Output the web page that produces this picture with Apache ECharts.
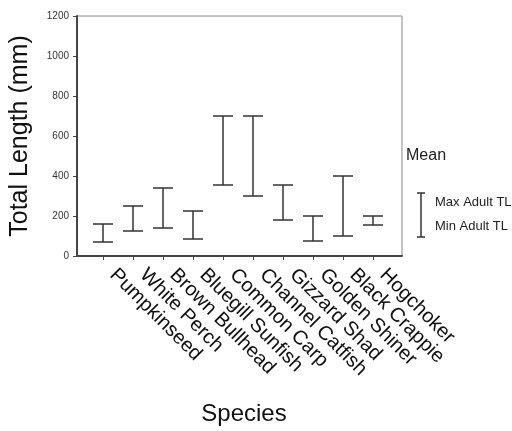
<!DOCTYPE html>
<html>
<head>
<meta charset="utf-8">
<script src="https://cdn.jsdelivr.net/npm/echarts@6/dist/echarts.min.js"></script>
<style>
  html, body { margin: 0; padding: 0; background: #fff; }
  #chart { width: 512px; height: 431px; }
</style>
</head>
<body>
<div id="chart"></div>
<script>
const species = ['Pumpkinseed', 'White Perch', 'Brown Bullhead', 'Bluegill Sunfish', 'Common Carp',
  'Channel Catfish', 'Gizzard Shad', 'Golden Shiner', 'Black Crappie', 'Hogchoker'];
const minAdultTL = [70, 125, 140, 85, 355, 300, 180, 75, 100, 155];
const maxAdultTL = [160, 250, 340, 225, 700, 700, 355, 200, 400, 200];
const yTicks = [0, 200, 400, 600, 800, 1000, 1200];

const font = '"Liberation Sans", Arial, sans-serif';
const barData = species.map((s, i) => [i, minAdultTL[i], maxAdultTL[i]]);

const myChart = echarts.init(document.getElementById('chart'));

const option = {
  animation: false,
  grid: [
    // outer box with the y axis
    { left: 76, top: 16, width: 326, height: 240, show: true, borderColor: '#888', borderWidth: 1 },
    // categories
    { left: 88, top: 16, width: 300, height: 240 }
  ],
  xAxis: [
    {
      gridIndex: 0,
      type: 'value',
      min: 0,
      max: 1,
      axisLine: { show: true, lineStyle: { color: '#444', width: 2 } },
      axisTick: { show: false },
      axisLabel: { show: false },
      splitLine: { show: false }
    },
    {
      gridIndex: 1,
      type: 'category',
      data: species,
      axisLine: { show: false },
      axisTick: { show: true, alignWithLabel: true, length: 4, lineStyle: { color: '#444' } },
      axisLabel: {
        rotate: -45,
        interval: 0,
        margin: 6,
        padding: [0, 0, 0, 14],
        fontFamily: font,
        fontSize: 20,
        color: '#111'
      },
      name: 'Species',
      nameLocation: 'middle',
      nameGap: 146,
      nameTextStyle: { fontFamily: font, fontSize: 24, color: '#111', padding: [0, 0, 0, 12] }
    }
  ],
  yAxis: [
    {
      gridIndex: 0,
      type: 'value',
      min: yTicks[0],
      max: yTicks[yTicks.length - 1],
      interval: 200,
      axisLine: { show: true, lineStyle: { color: '#444', width: 2 } },
      axisTick: { show: true, length: 4, lineStyle: { color: '#444' } },
      axisLabel: { margin: 8, fontFamily: font, fontSize: 10, color: '#333', formatter: v => String(v) },
      splitLine: { show: false },
      name: 'Total Length (mm)',
      nameLocation: 'middle',
      nameGap: 44,
      nameTextStyle: { fontFamily: font, fontSize: 25, color: '#111' }
    },
    {
      gridIndex: 1,
      type: 'value',
      min: 0,
      max: 1200,
      show: false
    }
  ],
  series: [
    {
      type: 'custom',
      xAxisIndex: 1,
      yAxisIndex: 1,
      data: barData,
      encode: { x: 0, y: [1, 2] },
      renderItem(params, api) {
        const lo = api.coord([api.value(0), api.value(1)]);
        const hi = api.coord([api.value(0), api.value(2)]);
        const hw = 10;
        const style = { stroke: '#333', lineWidth: 1.5 };
        return {
          type: 'group',
          children: [
            { type: 'line', shape: { x1: lo[0], y1: lo[1], x2: hi[0], y2: hi[1] }, style },
            { type: 'line', shape: { x1: hi[0] - hw, y1: hi[1], x2: hi[0] + hw, y2: hi[1] }, style },
            { type: 'line', shape: { x1: lo[0] - hw, y1: lo[1], x2: lo[0] + hw, y2: lo[1] }, style }
          ]
        };
      }
    }
  ],
  graphic: [
    { type: 'text', left: 406, top: 148, style: { text: 'Mean', fontFamily: font, fontSize: 16, fill: '#222' } },
    { type: 'line', shape: { x1: 421, y1: 193, x2: 421, y2: 237 }, style: { stroke: '#333', lineWidth: 1.5 } },
    { type: 'line', shape: { x1: 417, y1: 193, x2: 425, y2: 193 }, style: { stroke: '#333', lineWidth: 1.5 } },
    { type: 'line', shape: { x1: 417, y1: 237, x2: 425, y2: 237 }, style: { stroke: '#333', lineWidth: 1.5 } },
    { type: 'text', left: 435, top: 196, style: { text: 'Max Adult TL', fontFamily: font, fontSize: 13, fill: '#222' } },
    { type: 'text', left: 435, top: 220, style: { text: 'Min Adult TL', fontFamily: font, fontSize: 13, fill: '#222' } }
  ]
};

myChart.setOption(option);
</script>
</body>
</html>
